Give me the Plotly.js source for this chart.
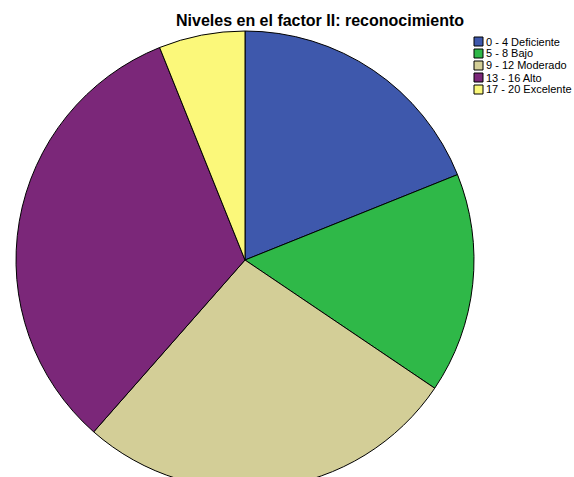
<!DOCTYPE html>
<html>
<head>
<meta charset="utf-8">
<script src="https://cdn.plot.ly/plotly-3.0.1.min.js"></script>
<style>
html,body{margin:0;padding:0;overflow:hidden;background:#fff;}
#chart{width:574px;height:490px;}
</style>
</head>
<body>
<div id="chart"></div>
<script>
var categories = ["0 - 4 Deficiente", "5 - 8 Bajo", "9 - 12 Moderado", "13 - 16 Alto", "17 - 20 Excelente"];
var counts = [28, 23, 40, 48, 9];
var colors = ["#3e58ac", "#2fb848", "#d3ce97", "#7b2779", "#fbf87a"];
var titleText = "Niveles en el factor II: reconocimiento";

var W = 574, H = 490;
var pie = {
  type: "pie",
  labels: categories,
  values: counts,
  sort: false,
  direction: "clockwise",
  rotation: 0,
  textinfo: "none",
  hoverinfo: "label+value+percent",
  marker: {colors: colors, line: {color: "#000", width: 1}},
  domain: {x: [14 / W, 476 / W], y: [(H - 489) / H, (H - 31) / H]},
  showlegend: false
};

var annotations = [{
  text: "<b>" + titleText + "</b>",
  xref: "paper", yref: "paper",
  x: 320 / W, y: 1 - 20 / H,
  xanchor: "center", yanchor: "middle",
  showarrow: false,
  font: {family: "Liberation Sans, Arial, sans-serif", size: 16, color: "#000"}
}];
var shapes = [];
var rowH = 12, top0 = 37;
categories.forEach(function (c, i) {
  var y0 = top0 + i * rowH;
  shapes.push({
    type: "rect", xref: "paper", yref: "paper",
    x0: 474 / W, x1: 483 / W,
    y0: 1 - (y0 + 9) / H, y1: 1 - y0 / H,
    fillcolor: colors[i], line: {color: "#000", width: 1}
  });
  annotations.push({
    text: c, xref: "paper", yref: "paper",
    x: 483.5 / W, y: 1 - (y0 + 4.5) / H,
    xanchor: "left", yanchor: "middle", showarrow: false,
    font: {family: "Liberation Sans, Arial, sans-serif", size: 11, color: "#000"}
  });
});

var layout = {
  width: W, height: H,
  margin: {l: 0, r: 0, t: 0, b: 0},
  paper_bgcolor: "#fff",
  showlegend: false,
  annotations: annotations,
  shapes: shapes
};
Plotly.newPlot("chart", [pie], layout, {displayModeBar: false, staticPlot: true});
</script>
</body>
</html>
